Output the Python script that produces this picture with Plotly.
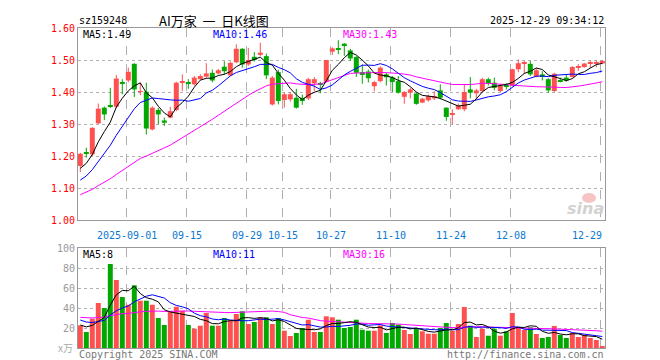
import pandas as pd
import plotly.graph_objects as go

# ---------------- data ----------------
holidays = ["2025-10-01", "2025-10-02", "2025-10-03", "2025-10-06", "2025-10-07", "2025-10-08"]
dates = [d.strftime("%Y-%m-%d") for d in pd.bdate_range("2025-08-20", "2025-12-29")
         if d.strftime("%Y-%m-%d") not in holidays]

tick_dates = ["2025-09-01", "2025-09-15", "2025-09-29", "2025-10-15", "2025-10-27",
              "2025-11-10", "2025-11-24", "2025-12-08", "2025-12-29"]
tick_labels = ["2025-09-01", "09-15", "09-29", "10-15", "10-27", "11-10", "11-24", "12-08", "12-29"]

# closes / volumes of the 29 sessions before the window (only feed the moving averages)
prior_close = [0.99, 1.00, 1.00, 1.01, 1.03, 1.04, 1.04, 1.05, 1.05, 1.06, 1.06, 1.07, 1.07,
               1.08, 1.08, 1.09, 1.09, 1.10, 1.10, 1.11, 1.08, 1.09, 1.09, 1.09, 1.09,
               1.13, 1.15, 1.15, 1.17]
prior_vol = [30, 35, 28, 33, 38, 31, 29, 36, 27, 34, 32, 30, 37, 33, 29, 31, 35, 30, 28, 34,
             36, 34, 31, 33, 31, 25, 22, 24, 21]

opens = [1.169, 1.212, 1.205, 1.302, 1.351, 1.358, 1.354, 1.431, 1.436, 1.488,
         1.400, 1.401, 1.283, 1.344, 1.311, 1.320, 1.344, 1.431, 1.431, 1.424,
         1.440, 1.448, 1.460, 1.458, 1.479, 1.452, 1.493, 1.535, 1.486, 1.510,
         1.516, 1.512, 1.361, 1.462, 1.375, 1.377, 1.382, 1.382, 1.380, 1.427,
         1.426, 1.432, 1.526, 1.535, 1.551, 1.530, 1.509, 1.462, 1.464, 1.418,
         1.434, 1.455, 1.446, 1.434, 1.385, 1.398, 1.395, 1.367, 1.374, 1.380,
         1.405, 1.351, 1.329, 1.346, 1.346, 1.408, 1.396, 1.403, 1.440, 1.429,
         1.403, 1.421, 1.420, 1.471, 1.489, 1.488, 1.448, 1.455, 1.440, 1.403,
         1.436, 1.445, 1.447, 1.478, 1.478, 1.489, 1.488, 1.489]
highs = [1.210, 1.226, 1.290, 1.364, 1.355, 1.413, 1.453, 1.440, 1.476, 1.490,
         1.429, 1.429, 1.355, 1.350, 1.320, 1.354, 1.432, 1.455, 1.440, 1.450,
         1.455, 1.490, 1.470, 1.472, 1.496, 1.495, 1.549, 1.537, 1.538, 1.525,
         1.554, 1.520, 1.450, 1.470, 1.398, 1.400, 1.410, 1.392, 1.445, 1.447,
         1.432, 1.500, 1.540, 1.562, 1.553, 1.535, 1.512, 1.486, 1.470, 1.435,
         1.480, 1.460, 1.450, 1.450, 1.403, 1.413, 1.398, 1.382, 1.392, 1.402,
         1.424, 1.352, 1.346, 1.364, 1.424, 1.447, 1.410, 1.444, 1.445, 1.445,
         1.425, 1.428, 1.473, 1.502, 1.497, 1.497, 1.475, 1.465, 1.443, 1.460,
         1.445, 1.456, 1.481, 1.487, 1.490, 1.499, 1.499, 1.500]
lows = [1.150, 1.195, 1.200, 1.300, 1.312, 1.350, 1.350, 1.393, 1.430, 1.384,
        1.390, 1.267, 1.280, 1.299, 1.294, 1.318, 1.340, 1.403, 1.410, 1.420,
        1.438, 1.445, 1.430, 1.455, 1.455, 1.450, 1.490, 1.476, 1.482, 1.495,
        1.512, 1.440, 1.358, 1.361, 1.351, 1.370, 1.348, 1.360, 1.375, 1.403,
        1.396, 1.430, 1.516, 1.518, 1.513, 1.497, 1.447, 1.426, 1.430, 1.402,
        1.430, 1.420, 1.400, 1.395, 1.363, 1.380, 1.360, 1.365, 1.370, 1.375,
        1.377, 1.310, 1.299, 1.344, 1.340, 1.380, 1.377, 1.400, 1.420, 1.405,
        1.400, 1.408, 1.418, 1.462, 1.456, 1.450, 1.446, 1.436, 1.398, 1.400,
        1.430, 1.432, 1.445, 1.466, 1.476, 1.475, 1.477, 1.487]
closes = [1.207, 1.208, 1.288, 1.348, 1.330, 1.355, 1.442, 1.428, 1.463, 1.408,
          1.402, 1.286, 1.351, 1.330, 1.304, 1.340, 1.429, 1.433, 1.428, 1.445,
          1.450, 1.458, 1.436, 1.468, 1.465, 1.491, 1.535, 1.486, 1.500, 1.500,
          1.523, 1.452, 1.445, 1.372, 1.393, 1.393, 1.351, 1.372, 1.440, 1.440,
          1.423, 1.500, 1.536, 1.532, 1.545, 1.505, 1.460, 1.456, 1.443, 1.431,
          1.476, 1.446, 1.431, 1.398, 1.400, 1.408, 1.363, 1.379, 1.387, 1.387,
          1.382, 1.322, 1.331, 1.358, 1.400, 1.398, 1.405, 1.440, 1.427, 1.413,
          1.420, 1.418, 1.471, 1.490, 1.491, 1.455, 1.468, 1.447, 1.405, 1.457,
          1.433, 1.436, 1.478, 1.480, 1.489, 1.491, 1.490, 1.497]
volumes = [22.7, 16, 29.3, 45, 40, 84, 68, 51, 43.3, 62.7,
           47.3, 47.3, 43.3, 30, 23, 36.7, 41.3, 37.3, 23, 19.3,
           22.3, 35, 22.3, 22.3, 30, 27.3, 34, 36.7, 24, 26,
           30.7, 30.7, 24, 30, 17.3, 12, 15, 20, 28.3, 16,
           16, 31.7, 30.7, 28.3, 20, 21, 28.3, 18.3, 17.3, 17.3,
           22.7, 15, 25, 23.3, 18, 14, 20, 16.7, 14.3, 14.3,
           20, 25, 17.3, 24, 41, 22.3, 11, 19.3, 12.3, 19.3,
           12.3, 16.7, 35, 20.7, 18, 20.7, 14, 10, 11, 22,
           13, 10, 15, 11, 13, 10, 8, 2]

# ---------------- derived ----------------
RED = "#ff5050"
GREEN = "#00a800"
MONO = "DejaVu Sans Mono"
n = len(closes)
xs = list(range(1, n + 1))
cs = pd.Series(prior_close + closes)
vs = pd.Series(prior_vol + volumes)
npre = len(prior_close)
ma = {k: cs.rolling(k).mean().iloc[npre:].tolist() for k in (5, 10, 30)}
vma = {k: vs.rolling(k).mean().iloc[npre:].tolist() for k in (5, 10, 30)}
up = [c >= o for o, c in zip(opens, closes)]
tick_pos = [dates.index(d) + 1 for d in tick_dates]
grid_pos = [p - 0.27 for p in tick_pos]

fig = go.Figure()

# wicks
for flag, col in ((True, RED), (False, GREEN)):
    wx, wy = [], []
    for i in range(n):
        if up[i] == flag:
            wx += [xs[i], xs[i], None]
            wy += [lows[i], highs[i], None]
    fig.add_trace(go.Scatter(x=wx, y=wy, mode="lines", line=dict(color=col, width=1),
                             hoverinfo="skip", xaxis="x", yaxis="y"))

# bodies
for flag, col in ((True, RED), (False, GREEN)):
    bx, by, bb = [], [], []
    for i in range(n):
        if up[i] == flag:
            lo, hi = min(opens[i], closes[i]), max(opens[i], closes[i])
            bx.append(xs[i])
            bb.append(lo)
            by.append(max(hi - lo, 0.003))
    fig.add_trace(go.Bar(x=bx, y=by, base=bb, width=0.83, marker=dict(color=col, line=dict(width=0)),
                         xaxis="x", yaxis="y"))

# price MAs
for k, col in ((30, "#ff00ff"), (10, "#0000ff"), (5, "#000000")):
    fig.add_trace(go.Scatter(x=xs, y=ma[k], mode="lines", line=dict(color=col, width=1),
                             xaxis="x", yaxis="y"))

# volume bars
fig.add_trace(go.Bar(x=xs, y=volumes, width=0.83,
                     marker=dict(color=[RED if u else GREEN for u in up], line=dict(width=0)),
                     xaxis="x2", yaxis="y2"))
for k, col in ((30, "#ff00ff"), (10, "#0000ff"), (5, "#000000")):
    fig.add_trace(go.Scatter(x=xs, y=vma[k], mode="lines", line=dict(color=col, width=1),
                             xaxis="x2", yaxis="y2"))

xcommon = dict(range=[0.617, n + 0.45], tickvals=grid_pos, showticklabels=False, ticks="",
               showgrid=True, gridcolor="#b0b0b0", griddash="dash", gridwidth=1,
               showline=True, mirror=True, linecolor="#999999", linewidth=1, zeroline=False)
ycommon = dict(showgrid=True, gridcolor="#b0b0b0", griddash="dot", gridwidth=1, ticks="",
               showline=True, mirror=True, linecolor="#999999", linewidth=1, zeroline=False)

price_ticks = [1.0, 1.1, 1.2, 1.3, 1.4, 1.5, 1.6]
vol_ticks = [20, 40, 60, 80, 100]

fig.update_layout(
    width=660, height=360, margin=dict(l=70, r=63, t=20, b=20),
    paper_bgcolor="white", plot_bgcolor="white", showlegend=False, barmode="overlay",
    xaxis=dict(domain=[0, 1], anchor="y", **xcommon),
    xaxis2=dict(domain=[0, 1], anchor="y2", matches="x", **xcommon),
    yaxis=dict(domain=[0.4, 1.0], range=[1.0, 1.6], tickvals=price_ticks,
               ticktext=["%.2f" % t for t in price_ticks],
               tickfont=dict(family=MONO, size=10, color="#ff0000"), **ycommon),
    yaxis2=dict(domain=[0, 0.3125], range=[0, 100], tickvals=vol_ticks,
                ticktext=[str(t) for t in vol_ticks],
                tickfont=dict(family=MONO, size=10, color="#999999"), **ycommon),
    hovermode=False,
)


def px(xp, yp):
    return (xp - 70) / 527.0, (340 - yp) / 320.0


def note(text, xp, yp, color="#000", size=10, family=MONO, anchor="left"):
    ax, ay = px(xp, yp)
    fig.add_annotation(text=text, x=ax, y=ay, xref="paper", yref="paper", showarrow=False,
                       xanchor=anchor, yanchor="middle", font=dict(family=family, size=size, color=color))


note("sz159248", 69, 12)
note("AI万家  一  日K线图", 206, 12, size=13, family="Noto Sans CJK SC", anchor="center")
note("2025-12-29 09:34:12", 598, 12, anchor="right")

note("MA5:1.49", 73, 26)
note("MA10:1.46", 203, 26, color="#0000ff")
note("MA30:1.43", 333, 26, color="#ff00ff")
note("MA5:8", 73, 246)
note("MA10:11", 203, 246, color="#0000ff")
note("MA30:16", 333, 246, color="#ff00ff")

note("x万", 48, 339, color="#aaaaaa", size=10, family="Noto Sans CJK SC")
note("Copyright 2025 SINA.COM", 69, 346, color="#777777")
note("http://finance.sina.com.cn", 598, 346, color="#777777", anchor="right")

# faint sina watermark (eye logo + word)
x0, y0 = px(574, 195)
x1, y1 = px(588, 185)
fig.add_shape(type="circle", xref="paper", yref="paper", x0=x0, y0=y0, x1=x1, y1=y1,
              fillcolor="#f7c4c4", line=dict(width=0), layer="below")
note("<b><i>sina</i></b>", 598, 200, color="#d2d2d2", size=16, family="DejaVu Sans", anchor="right")

# x tick labels placed at the trading-day positions, just below the price panel
label_y = (340 - 227) / 320.0
for p, lab in zip(tick_pos, tick_labels):
    last = lab == tick_labels[-1]
    fig.add_annotation(text=lab, x=(p + 0.25) if last else (p - 0.27), y=label_y, xref="x", yref="paper",
                       showarrow=False, xanchor="right" if last else "center", yanchor="middle",
                       font=dict(family=MONO, size=10, color="#0a78d2"))

fig.write_html("out.html")
